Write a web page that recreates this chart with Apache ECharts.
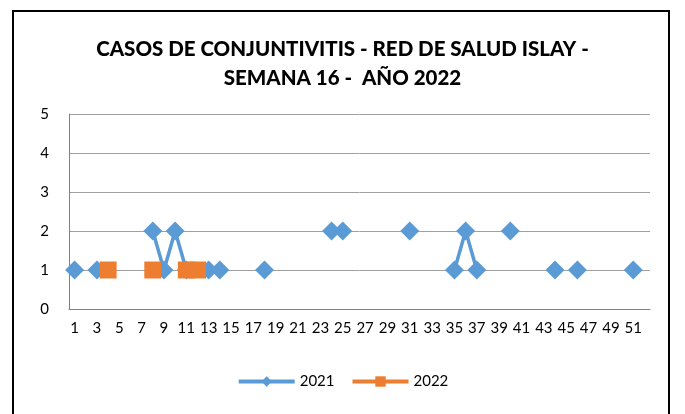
<!DOCTYPE html>
<html lang="es">
<head>
    <meta charset="utf-8">
    <title>Casos de conjuntivitis</title>
    <script src="https://cdn.jsdelivr.net/npm/echarts@6/dist/echarts.min.js"></script>
    <style>
        html, body { margin: 0; padding: 0; background: #fff; }
        #frame { position: absolute; left: 12px; top: 10px; width: 658px; height: 410px; border: 2px solid #000; box-sizing: border-box; }
        #main { position: absolute; left: 0; top: 0; width: 685px; height: 414px; }
    </style>
</head>
<body>
    <div id="frame"></div>
    <div id="main"></div>
    <script type="text/javascript">
    // semanas epidemiologicas 1..52
    var weeks = [];
    for (var i = 1; i <= 52; i++) weeks.push(String(i));

    // casos por semana (solo semanas con casos)
    var weeks2021 = [1, 3, 8, 9, 10, 11, 13, 14, 18, 24, 25, 31, 35, 36, 37, 40, 44, 46, 51];
    var cases2021 = [1, 1, 2, 1, 2, 1, 1, 1, 1, 2, 2, 2, 1, 2, 1, 2, 1, 1, 1];
    var weeks2022 = [4, 8, 11, 12];
    var cases2022 = [1, 1, 1, 1];

    function toSeries(wk, val) {
        var out = weeks.map(function () { return null; });
        wk.forEach(function (w, k) { out[w - 1] = val[k]; });
        return out;
    }

    var myChart = echarts.init(document.getElementById('main'));
    var font = 'Lato, "Open Sans", sans-serif';

    myChart.setOption({
        animation: false,
        textStyle: { fontFamily: font },
        title: {
            text: 'CASOS DE CONJUNTIVITIS - RED DE SALUD ISLAY -\nSEMANA 16 -  AÑO 2022',
            left: 'center',
            top: 30,
            textStyle: { fontFamily: font, fontSize: 20.5, fontWeight: 900, color: '#000', lineHeight: 29 }
        },
        legend: {
            bottom: 20,
            left: 'center',
            itemWidth: 56,
            itemHeight: 13,
            itemGap: 16,
            lineStyle: { width: 4 },
            textStyle: { fontFamily: font, fontSize: 15, color: '#000' },
            data: ['2021', '2022']
        },
        grid: { left: 69, right: 35, top: 114, bottom: 105 },
        xAxis: {
            type: 'category',
            data: weeks,
            boundaryGap: true,
            axisLine: { lineStyle: { color: '#808080', width: 1 } },
            axisTick: { show: false },
            axisLabel: { interval: 1, color: '#000', fontSize: 15, margin: 12, fontFamily: font }
        },
        yAxis: {
            type: 'value',
            min: 0,
            max: 5,
            interval: 1,
            axisLine: { show: true, lineStyle: { color: '#808080', width: 1 } },
            axisTick: { show: false },
            axisLabel: { color: '#000', fontSize: 15, margin: 20, fontFamily: font },
            splitLine: { lineStyle: { color: '#a0a0a0', width: 1 } }
        },
        series: [
            {
                name: '2021',
                type: 'line',
                data: toSeries(weeks2021, cases2021),
                connectNulls: false,
                showAllSymbol: true,
                symbol: 'diamond',
                symbolSize: 19,
                itemStyle: { color: '#5b9bd5' },
                lineStyle: { color: '#5b9bd5', width: 3.5 }
            },
            {
                name: '2022',
                type: 'line',
                data: toSeries(weeks2022, cases2022),
                connectNulls: false,
                showAllSymbol: true,
                symbol: 'rect',
                symbolSize: 17,
                itemStyle: { color: '#ed7d31' },
                lineStyle: { color: '#ed7d31', width: 3.5 }
            }
        ]
    });
    </script>
</body>
</html>
